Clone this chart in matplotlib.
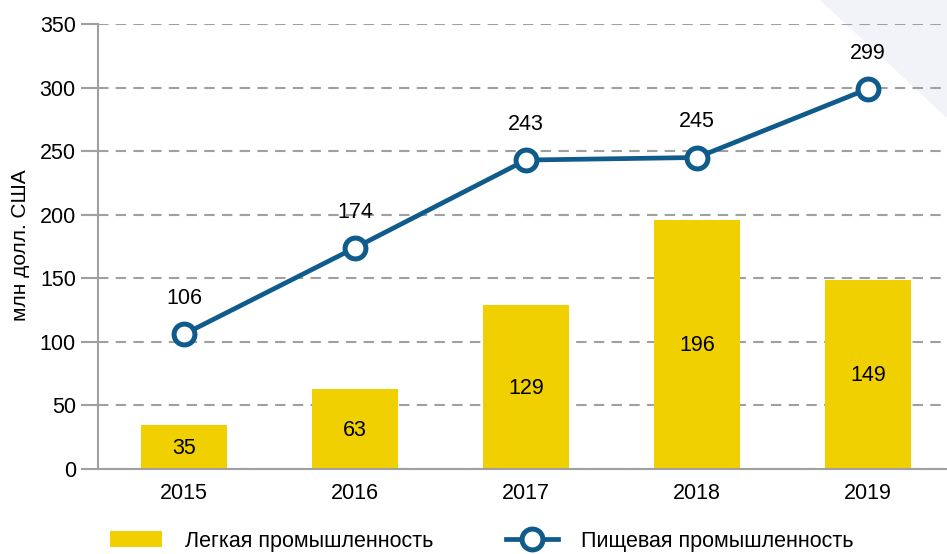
import matplotlib
matplotlib.use("Agg")
import matplotlib.pyplot as plt
import numpy as np
from matplotlib.patches import Polygon

years = ["2015", "2016", "2017", "2018", "2019"]
light_industry = [35, 63, 129, 196, 149]
food_industry = [106, 174, 243, 245, 299]
y_ticks = [0, 50, 100, 150, 200, 250, 300, 350]

plt.rcParams["font.family"] = ["Liberation Sans", "DejaVu Sans"]

yellow = "#f0d000"
blue = "#0f5b8c"
grey = "#a0a0a0"

fig = plt.figure(figsize=(9.47, 5.54), dpi=100)

# faint background triangle at the top right
fig.patches.append(Polygon([[820 / 947, 1], [1, 1], [1, 1 - 118 / 554]],
                           closed=True, transform=fig.transFigure,
                           facecolor="#f2f3f8", edgecolor="none", zorder=0))

ax = fig.add_axes([98 / 947, 1 - 469 / 554, 1 - 98 / 947, (469 - 24) / 554])
ax.set_zorder(2)
ax.patch.set_alpha(0)

x = np.arange(len(years))
bars = ax.bar(x, light_industry, width=0.5, color=yellow, zorder=2,
              label="Легкая промышленность")
line, = ax.plot(x, food_industry, color=blue, linewidth=3.4, marker="o",
                markersize=15, markerfacecolor="white", markeredgecolor=blue,
                markeredgewidth=3.6, zorder=4, label="Пищевая промышленность")

for xi, v in zip(x, light_industry):
    ax.text(xi, v / 2 - 1, str(v), ha="center", va="center", fontsize=15.5, zorder=5)
for xi, v in zip(x, food_industry):
    ax.text(xi, v + 28, str(v), ha="center", va="center", fontsize=15.5, zorder=5)

ax.set_xlim(-0.503, 4.462)
ax.set_ylim(0, 350)
ax.set_yticks(y_ticks)
ax.set_xticks(x)
ax.set_xticklabels(years)
ax.tick_params(axis="y", length=12, width=1.5, color=grey, labelsize=15.5, pad=4)
ax.tick_params(axis="x", length=0, labelsize=15.5, pad=10)
ax.yaxis.grid(True, color=grey, linestyle=(0, (5, 3.5)), linewidth=1.5, zorder=1)
ax.set_axisbelow(True)
for s in ["top", "right"]:
    ax.spines[s].set_visible(False)
for s in ["left", "bottom"]:
    ax.spines[s].set_color(grey)
    ax.spines[s].set_linewidth(1.5)

fig.text(20 / 947, 1 - 245 / 554, "млн долл. США", rotation=90,
         ha="center", va="center", fontsize=15)

fig.legend([bars, line], ["Легкая промышленность", "Пищевая промышленность"],
           loc="center left", bbox_to_anchor=(110 / 947, 1 - 541 / 554),
           ncol=2, frameon=False, fontsize=15.5, handlelength=2.4,
           handleheight=0.8, handletextpad=1.1, columnspacing=3.35,
           borderpad=0, borderaxespad=0)

fig.savefig("out.png", dpi=100)
